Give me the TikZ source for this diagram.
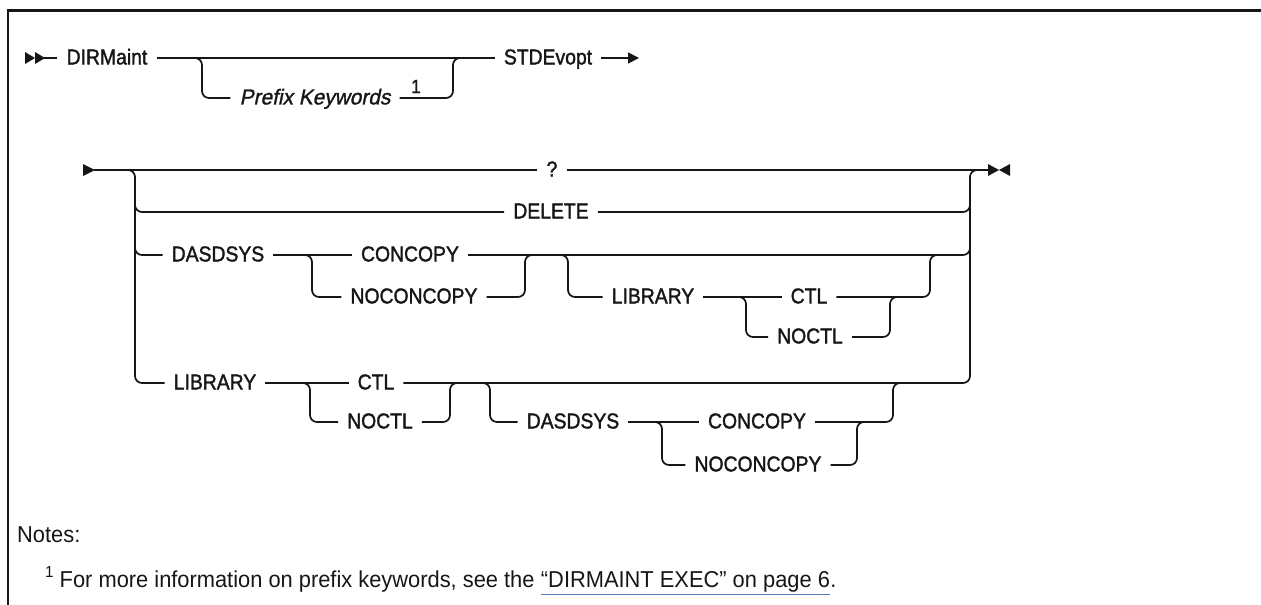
\documentclass[tikz,border=0pt]{standalone}
\usepackage{fontspec}
\setmainfont{Liberation Sans}
\newfontfamily\lblfont{Liberation Sans}[FakeStretch=0.9, FakeBold=1.6]
\newfontfamily\lblitfont{Liberation Sans}[FakeStretch=0.97, FakeBold=1.2, FakeSlant=0.2]
\newfontfamily\notefont{Liberation Sans}[FakeStretch=0.95]
\usetikzlibrary{arrows.meta}
\definecolor{ink}{RGB}{22,22,22}
\definecolor{linkblue}{RGB}{90,125,190}
\begin{document}
\begin{tikzpicture}[x=1pt,y=-1pt,
  ln/.style={line width=1.7pt, draw=ink},
  rr/.style={ln, rounded corners=7pt},
  lbl/.style={font=\lblfont\fontsize{21.5}{24}\selectfont, text=ink, inner xsep=9pt, inner ysep=0pt, text height=15.4pt, text depth=2.6pt},
  lblit/.style={lbl, font=\lblitfont\fontsize{21.5}{24}\selectfont},
  notes/.style={font=\notefont\fontsize{23}{27}\selectfont, text=ink, inner sep=0pt},
  tri/.style={fill=ink, draw=none}]
\useasboundingbox (0,0) rectangle (1261,605);
% frame
\draw[line width=3pt, draw=ink] (7,10) -- (1261,10);
\draw[line width=2.4pt, draw=ink] (8,9) -- (8,605);

% ===== Row A =====
\fill[tri] (25,52) -- (35,58) -- (25,64) -- cycle;
\fill[tri] (35,52) -- (45,58) -- (35,64) -- cycle;
\node[lbl] (dirm) at (107,58) {DIRMaint};
\node[lbl] (stde) at (548,58) {STDEvopt};
\node[lblit] (pk) at (315,98) {Prefix Keywords};
\node[font=\lblfont\fontsize{19}{20}\selectfont, text=ink, inner sep=0pt, anchor=base] (one) at (416,93) {1};
\coordinate (startA) at (44,58);
\coordinate (endA) at (639,58);
\draw[ln] (startA) -- (dirm.west);
\draw[ln] (dirm.east) -- (stde.west);
\draw[rr] (194,58) -| (202,98) -- (pk.west);
\draw[rr] (pk.east) -| (453,58) -- (461,58);
\draw[ln, -{Triangle[length=11pt,width=11pt]}] (stde.east) -- (endA);

% ===== Row B (?) =====
\fill[tri] (83,164) -- (95,170) -- (83,176) -- cycle;
\fill[tri] (988,164) -- (999,170) -- (988,176) -- cycle;
\fill[tri] (1010,164) -- (999,170) -- (1010,176) -- cycle;
\coordinate (startB) at (94,170);
\coordinate (endB) at (989,170);
\node[lbl] (q) at (552,170) {?};
\draw[ln] (startB) -- (q.west);
\draw[ln] (q.east) -- (endB);

% left and right brackets
\node[lbl] (del) at (551,212) {DELETE};
\node[lbl] (das1) at (218,255) {DASDSYS};
\node[lbl] (lib2) at (215,383) {LIBRARY};
\draw[rr] (120,170) -| (135,383) -- (lib2.west);
\draw[rr] (135,190) |- (del.west);
\draw[rr] (135,235) |- (das1.west);

\node[lbl] (ctl2) at (376,383) {CTL};
\draw[rr] (ctl2.east) -| (970,170) -- (endB);
\draw[rr] (del.east) -| (970,192);
\node[lbl] (con1) at (410,255) {CONCOPY};
\draw[rr] (con1.east) -| (970,235);

% ===== Row C: DASDSYS group =====
\node[lbl] (nocon1) at (414,297) {NOCONCOPY};
\draw[ln] (das1.east) -- (con1.west);
\draw[rr] (302,255) -| (312,297) -- (nocon1.west);
\draw[rr] (nocon1.east) -| (525,255) -- (533,255);
\node[lbl] (lib1) at (653,297) {LIBRARY};
\node[lbl] (ctl1) at (809,297) {CTL};
\node[lbl] (noctl1) at (810,337) {NOCTL};
\draw[rr] (560,255) -| (568,297) -- (lib1.west);
\draw[ln] (lib1.east) -- (ctl1.west);
\draw[rr] (738,297) -| (746,337) -- (noctl1.west);
\draw[rr] (ctl1.east) -| (930,255) -- (938,255);
\draw[rr] (noctl1.east) -| (890,297) -- (898,297);

% ===== Row L: LIBRARY group =====
\node[lbl] (noctl2) at (380,422) {NOCTL};
\draw[ln] (lib2.east) -- (ctl2.west);
\draw[rr] (302,383) -| (310,422) -- (noctl2.west);
\draw[rr] (noctl2.east) -| (450,383) -- (458,383);
\node[lbl] (das2) at (573,422) {DASDSYS};
\node[lbl] (con2) at (757,422) {CONCOPY};
\node[lbl] (nocon2) at (758,465) {NOCONCOPY};
\draw[rr] (482,383) -| (490,422) -- (das2.west);
\draw[ln] (das2.east) -- (con2.west);
\draw[rr] (654,422) -| (662,465) -- (nocon2.west);
\draw[rr] (con2.east) -| (893,383) -- (901,383);
\draw[rr] (nocon2.east) -| (857,422) -- (865,422);

% ===== Notes =====
\node[notes, anchor=base west] (notes) at (17,542) {Notes:};
\node[notes, anchor=base west] (fn) at (45,587) {\raisebox{0.42em}{\fontsize{16}{16}\selectfont 1} For more information on prefix keywords, see the};
\node[notes, anchor=base west, xshift=6pt] (link) at (fn.base east) {“DIRMAINT EXEC” on page 6};
\node[notes, anchor=base west] (dot) at (link.base east) {.};
\draw[draw=linkblue, line width=1pt] ([yshift=-7pt]link.base west) -- ([yshift=-7pt]link.base east);
\end{tikzpicture}
\end{document}
